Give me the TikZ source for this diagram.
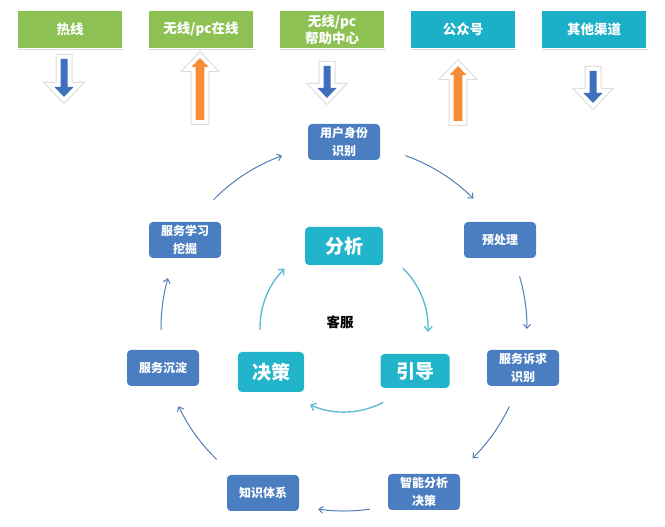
\documentclass[tikz,border=0pt]{standalone}
\usepackage{fontspec}
\setmainfont{Noto Sans CJK SC}
\usetikzlibrary{arrows.meta,shadows,calc}

\definecolor{chgreen}{RGB}{141,193,83}
\definecolor{chteal}{RGB}{28,175,200}
\definecolor{stepblue}{RGB}{74,126,192}
\definecolor{hubteal}{RGB}{34,180,202}
\definecolor{arrblue}{RGB}{62,112,190}
\definecolor{arrorange}{RGB}{247,140,52}
\definecolor{ringblue}{RGB}{80,125,185}
\definecolor{ringteal}{RGB}{95,188,210}

\tikzset{
  chanbox/.style={draw=white, line width=1.6pt, minimum width=106pt, minimum height=38pt,
    inner sep=0pt, align=center, text=white, font=\fontsize{13.5}{17}\selectfont\bfseries,
    drop shadow={opacity=0.3, shadow xshift=0.8pt, shadow yshift=-1.2pt}},
  stepbox/.style={fill=stepblue, rounded corners=4pt, minimum width=72pt, minimum height=36pt,
    inner sep=0pt, align=center, text=white, font=\fontsize{12}{18}\selectfont\bfseries},
  hubbox/.style={fill=hubteal, rounded corners=4pt, inner sep=0pt, text=white,
    font=\fontsize{19}{22}\selectfont\bfseries},
  ring/.style={ringblue, line width=1pt, -{Straight Barb[length=4pt,width=7pt]}},
  innerring/.style={ringteal, line width=1.4pt, -{Straight Barb[length=4.5pt,width=8pt]}},
  blkrim/.style={line join=miter, miter limit=12},
}

% block arrows: x, top, tip, colour
\newcommand{\blkdown}[4]{%
  \foreach \w/\k in {10/gray!28,8/white}
    \draw[\k, line width=\w pt, blkrim]
      (#1-3.5,#2) -- (#1+3.5,#2) -- (#1+3.5,#3+10) -- (#1+9.5,#3+10) -- (#1,#3)
      -- (#1-9.5,#3+10) -- (#1-3.5,#3+10) -- cycle;
  \fill[#4] (#1-3.5,#2) -- (#1+3.5,#2) -- (#1+3.5,#3+10) -- (#1+9.5,#3+10) -- (#1,#3)
    -- (#1-9.5,#3+10) -- (#1-3.5,#3+10) -- cycle;}
% x, bottom, tip, colour
\newcommand{\blkup}[4]{%
  \foreach \w/\k in {10/gray!28,8/white}
    \draw[\k, line width=\w pt, blkrim]
      (#1-4.3,#2) -- (#1+4.3,#2) -- (#1+4.3,#3-9) -- (#1+8.5,#3-9) -- (#1,#3)
      -- (#1-8.5,#3-9) -- (#1-4.3,#3-9) -- cycle;
  \fill[#4] (#1-4.3,#2) -- (#1+4.3,#2) -- (#1+4.3,#3-9) -- (#1+8.5,#3-9) -- (#1,#3)
    -- (#1-8.5,#3-9) -- (#1-4.3,#3-9) -- cycle;}

\begin{document}
\begin{tikzpicture}[x=1pt,y=1pt]
    \useasboundingbox (0,0) rectangle (665,527);
    % channels
    \foreach \n/\x/\t/\c in {hot/70/热线/chgreen,wlpc/201/{无线/pc在线}/chgreen,%
      help/332/{无线/pc\\帮助中心}/chgreen,wx/463/公众号/chteal,other/594/其他渠道/chteal}
      \node[chanbox, fill=\c] (\n) at (\x,497.5) {\t};
    \blkdown{64}{468}{430}{arrblue}
    \blkup{200}{407}{469}{arrorange}
    \blkdown{327}{461}{429}{arrblue}
    \blkup{458}{406}{461}{arrorange}
    \blkdown{593}{456}{424}{arrblue}
    % outer cycle
    \node[stepbox] (ident) at (344,385) {用户身份\\识别};
    \node[stepbox] (prep) at (500,287) {预处理};
    \node[stepbox] (need) at (523,159) {服务诉求\\识别};
    \node[stepbox] (smart) at (424,35) {智能分析\\决策};
    \node[stepbox] (know) at (263,34) {知识体系};
    \node[stepbox] (settle) at (163,159) {服务沉淀};
    \node[stepbox] (learn) at (185,287) {服务学习\\挖掘};
    % inner cycle
    \node[hubbox, minimum width=78pt, minimum height=38pt] (fenxi) at (344,281) {分析};
    \node[hubbox, minimum width=66pt, minimum height=40pt] (juece) at (271,155) {决策};
    \node[hubbox, minimum width=69pt, minimum height=34pt] (yindao) at (415,156) {引导};
    \node[font=\fontsize{13.5}{16}\selectfont\bfseries] (kefu) at (340,205) {客服};
    \coordinate (hub) at (344,199);
    \foreach \a/\b in {70.4/45,16.4/-0.3,-25.4/-45.4,-81.9/-98.1,-134.1/-154.7,180.6/164.2,135.5/109.8}
      \draw[ring] ($(hub)+(\a:183)$) arc[start angle=\a, end angle=\b, radius=183];
    \foreach \a/\b in {45.5/-2.7,-62.2/-113.9,181.4/135}
      \draw[innerring] ($(hub)+(\a:84)$) arc[start angle=\a, end angle=\b, radius=84];
\end{tikzpicture}
\end{document}
